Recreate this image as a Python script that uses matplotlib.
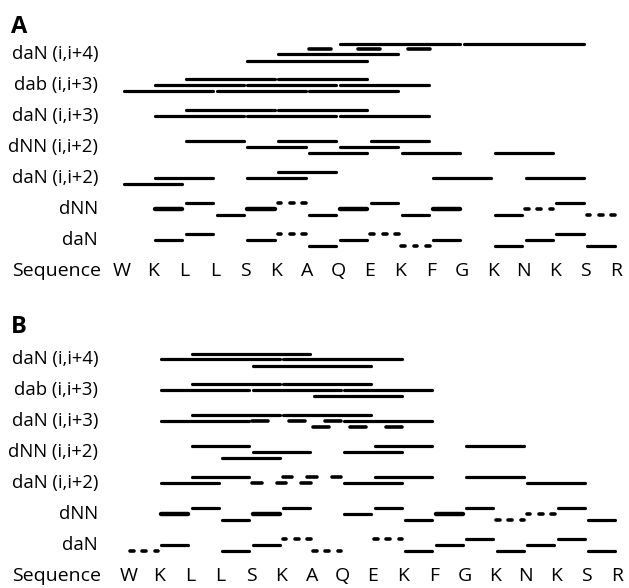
import matplotlib
matplotlib.use("Agg")
import matplotlib.pyplot as plt

plt.rcParams["font.family"] = ["Open Sans", "DejaVu Sans"]

FIG_W, FIG_H, DPI = 629, 588, 100

residues = list("WKLLSKAQEKFGKNKSR")
row_labels = ["Sequence", "daN", "dNN", "daN (i,i+2)", "dNN (i,i+2)",
              "daN (i,i+3)", "dab (i,i+3)", "daN (i,i+4)"]

# ---- Panel A: starting residue (1-based) of each observed NOE ----
a_dan_i4 = [5, 6, 8, 12]
a_dan_i4_weak = [7]
a_dab_i3 = [1, 2, 3, 4, 5, 6, 7, 8]
a_dab_i3_weak = []
a_dan_i3 = [2, 3, 5, 6, 8]
a_dan_i3_weak = []
a_dnn_i2 = [3, 5, 6, 7, 8, 9, 10, 13]
a_dnn_i2_weak = []
a_dan_i2 = [1, 2, 5, 6, 11, 14]
a_dan_i2_weak = []
a_dnn_strong = [2, 5, 8, 11]
a_dnn_medium = [3, 4, 7, 9, 10, 13, 15]
a_dnn_weak = [6, 14, 16]
a_dan_strong = []
a_dan_medium = [2, 3, 5, 7, 8, 11, 13, 14, 15, 16]
a_dan_weak = [6, 9, 10]

# ---- Panel B ----
b_dan_i4 = [2, 3, 5, 6]
b_dan_i4_weak = []
b_dab_i3 = [2, 3, 5, 6, 7, 8]
b_dab_i3_weak = []
b_dan_i3 = [2, 3, 6, 8]
b_dan_i3_weak = [5, 7]
b_dnn_i2 = [3, 4, 5, 8, 9, 12]
b_dnn_i2_weak = []
b_dan_i2 = [2, 3, 8, 9, 12, 14]
b_dan_i2_weak = [5, 6]
b_dnn_strong = [2, 5, 11]
b_dnn_medium = [3, 4, 6, 8, 9, 10, 12, 15, 16]
b_dnn_weak = [13, 14]
b_dan_strong = []
b_dan_medium = [2, 4, 5, 10, 11, 12, 13, 14, 15, 16]
b_dan_weak = [1, 6, 7, 9]

panel_a = {
    "long": [  # (row, span, solid starts, dashed starts)
        (7, 4, a_dan_i4, a_dan_i4_weak),
        (6, 3, a_dab_i3, a_dab_i3_weak),
        (5, 3, a_dan_i3, a_dan_i3_weak),
        (4, 2, a_dnn_i2, a_dnn_i2_weak),
        (3, 2, a_dan_i2, a_dan_i2_weak),
    ],
    "seq": [
        (2, a_dnn_strong, a_dnn_medium, a_dnn_weak),
        (1, a_dan_strong, a_dan_medium, a_dan_weak),
    ],
}
panel_b = {
    "long": [
        (7, 4, b_dan_i4, b_dan_i4_weak),
        (6, 3, b_dab_i3, b_dab_i3_weak),
        (5, 3, b_dan_i3, b_dan_i3_weak),
        (4, 2, b_dnn_i2, b_dnn_i2_weak),
        (3, 2, b_dan_i2, b_dan_i2_weak),
    ],
    "seq": [
        (2, b_dnn_strong, b_dnn_medium, b_dnn_weak),
        (1, b_dan_strong, b_dan_medium, b_dan_weak),
    ],
}

# staggering of overlapping bars inside one row (pixels, downward)
LEVELS = {3: [-6.3, 0.0, 6.3], 4: [-10.5, -5.5, 0.0, 6.5]}
LW = {"strong": 3.2, "medium": 2.3, "weak": 2.6}
GAP = 0.06   # trim at each bar end, residue units

fig = plt.figure(figsize=(FIG_W / DPI, FIG_H / DPI), dpi=DPI)


def make_axes(top_px, bot_px, seq_px, row_px, w_px, step_px):
    ax = fig.add_axes([0, 1 - bot_px / FIG_H, 1, (bot_px - top_px) / FIG_H])
    ax.set_xlim(1 + (0 - w_px) / step_px, 1 + (FIG_W - w_px) / step_px)
    ax.set_ylim((seq_px - bot_px) / row_px, (seq_px - top_px) / row_px)
    ax.axis("off")
    return ax


def level_y(row, i, period, row_px):
    off = LEVELS[period][(-i) % period]
    return row - off / row_px


def bar(ax, x0, x1, y, lw, dashed):
    if not dashed:
        ax.plot([x0 + GAP, x1 - GAP], [y, y], color="black", lw=lw,
                solid_capstyle="round")
    else:
        n = 5
        piece = (x1 - x0) / n
        for k in range(0, n, 2):
            ax.plot([x0 + k * piece + 0.04, x0 + (k + 1) * piece - 0.04],
                    [y, y], color="black", lw=lw, solid_capstyle="round")


def draw_panel(ax, data, row_px, label_x, seq_label_x):
    for row, span, solid, weak in data["long"]:
        period = 4 if span == 4 else 3
        for i in solid:
            bar(ax, i, i + span, level_y(row, i, period, row_px), LW["medium"], False)
        for i in weak:
            bar(ax, i, i + span, level_y(row, i, period, row_px), LW["weak"], True)
    for row, strong, medium, weak in data["seq"]:
        for i in strong:
            bar(ax, i, i + 1, level_y(row, i, 3, row_px), LW["strong"], False)
        for i in medium:
            bar(ax, i, i + 1, level_y(row, i, 3, row_px), LW["medium"], False)
        for i in weak:
            bar(ax, i, i + 1, level_y(row, i, 3, row_px), LW["weak"], True)
    for r, lab in enumerate(row_labels):
        if r == 0:
            ax.text(seq_label_x, r, lab, ha="right", va="center", fontsize=14)
        else:
            ax.text(label_x, r, lab, ha="right", va="center", fontsize=13.3)
    for k, aa in enumerate(residues):
        ax.text(k + 1, 0, aa, ha="center", va="center", fontsize=14)


def px_to_x(p, w_px, step_px):
    return 1 + (p - w_px) / step_px


# panel A
A_W, A_STEP, A_SEQ, A_ROW = 122, 30.9, 271, 31.0
ax_a = make_axes(15, 292, A_SEQ, A_ROW, A_W, A_STEP)
draw_panel(ax_a, panel_a, A_ROW, px_to_x(98, A_W, A_STEP), px_to_x(101, A_W, A_STEP))
ax_a.text(px_to_x(11, A_W, A_STEP), (A_SEQ - 27) / A_ROW, "A", fontsize=17,
          fontweight="bold", ha="left", va="center")

# panel B
B_W, B_STEP, B_SEQ, B_ROW = 129, 30.5, 576, 31.0
ax_b = make_axes(305, 588, B_SEQ, B_ROW, B_W, B_STEP)
draw_panel(ax_b, panel_b, B_ROW, px_to_x(98, B_W, B_STEP), px_to_x(101, B_W, B_STEP))
ax_b.text(px_to_x(11, B_W, B_STEP), (B_SEQ - 327) / B_ROW, "B", fontsize=17,
          fontweight="bold", ha="left", va="center")

fig.savefig("out.png", dpi=DPI, facecolor="white")
